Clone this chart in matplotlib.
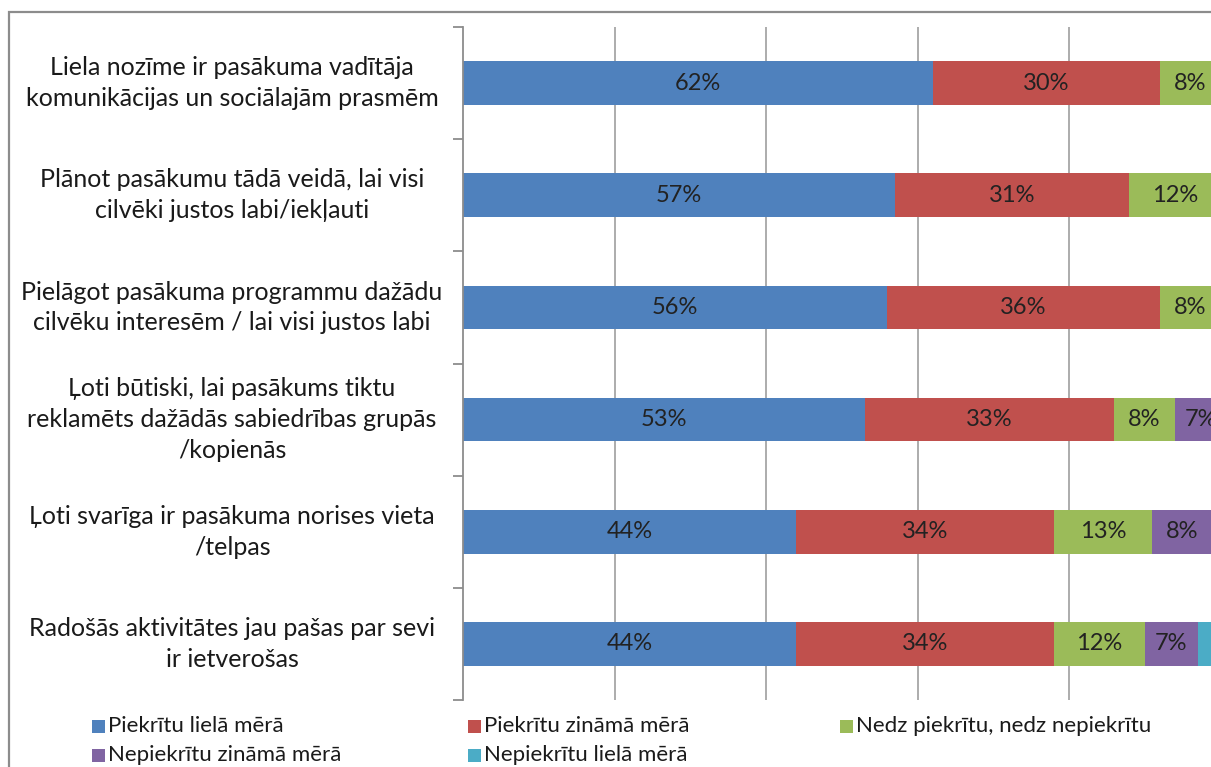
import matplotlib
matplotlib.use("Agg")
import matplotlib.pyplot as plt
from matplotlib.patches import Rectangle
from matplotlib.transforms import blended_transform_factory
import numpy as np

categories = [
    "Liela nozīme ir pasākuma vadītāja\nkomunikācijas un sociālajām prasmēm",
    "Plānot pasākumu tādā veidā, lai visi\ncilvēki justos labi/iekļauti",
    "Pielāgot pasākuma programmu dažādu\ncilvēku interesēm / lai visi justos labi",
    "Ļoti būtiski, lai pasākums tiktu\nreklamēts dažādās sabiedrības grupās\n/kopienās",
    "Ļoti svarīga ir pasākuma norises vieta\n/telpas",
    "Radošās aktivitātes jau pašas par sevi\nir ietverošas",
]
series_names = [
    "Piekrītu lielā mērā",
    "Piekrītu zināmā mērā",
    "Nedz piekrītu, nedz nepiekrītu",
    "Nepiekrītu zināmā mērā",
    "Nepiekrītu lielā mērā",
]
piekritu_liela = [62, 57, 56, 53, 44, 44]
piekritu_zinama = [30, 31, 36, 33, 34, 34]
nedz = [8, 12, 8, 8, 13, 12]
nepiekritu_zinama = [0, 0, 0, 7, 8, 7]
nepiekritu_liela = [0, 0, 0, 0, 1, 3]
series = [piekritu_liela, piekritu_zinama, nedz, nepiekritu_zinama, nepiekritu_liela]
colors = ["#4F81BD", "#C0504D", "#9BBB59", "#8064A2", "#4BACC6"]

FONT = ["Lato", "DejaVu Sans"]
plt.rcParams["font.family"] = FONT

W, H = 1211, 767
fig = plt.figure(figsize=(W / 100, H / 100), dpi=100)

# outer chart border (right/bottom edges fall outside the image)
fig.patches.append(Rectangle((9 / W, -0.05), 1.1, 1 - 12 / H + 0.05,
                             transform=fig.transFigure, fill=False,
                             edgecolor="#8c8c8c", linewidth=1.6, zorder=0))

ax = fig.add_axes([463.3 / W, 1 - 700 / H, 757 / W, (700 - 27) / H])
ypos = np.arange(len(categories))
left = np.zeros(len(categories))
for vals, col in zip(series, colors):
    vals = np.array(vals, dtype=float)
    bars = ax.barh(ypos, vals, left=left, height=0.39, color=col, zorder=2)
    for b, v in zip(bars, vals):
        if v >= 5:
            ax.text(b.get_x() + b.get_width() / 2, b.get_y() + b.get_height() / 2,
                    f"{v:.0f}%", ha="center", va="center", fontsize=17,
                    color="#222222", zorder=3)
    left += vals

ax.set_xlim(0, 100)
ax.set_ylim(len(categories) - 0.5, -0.5)
ax.set_xticks([20, 40, 60, 80])
ax.grid(axis="x", color="#a6a6a6", linewidth=1.3, zorder=0)
ax.tick_params(axis="x", length=0, labelbottom=False)
ax.set_yticks([])
ax.set_yticks(np.arange(-0.5, len(categories), 1.0), minor=True)
ax.tick_params(axis="y", which="minor", length=7, width=1.3, color="#8c8c8c",
               labelleft=False)
for s in ["top", "right", "bottom"]:
    ax.spines[s].set_visible(False)
ax.spines["left"].set_color("#8c8c8c")
ax.spines["left"].set_linewidth(1.3)

tr = blended_transform_factory(fig.transFigure, ax.transData)
for y, lab in zip(ypos, categories):
    ax.text(232 / W, y, lab, transform=tr, ha="center", va="center",
            fontsize=18, color="#1a1a1a", linespacing=1.4)

# legend
col_x = [92, 468, 840]
row_y = [726, 755]
for i, (name, col) in enumerate(zip(series_names, colors)):
    r, c = divmod(i, 3)
    x0 = col_x[c] / W
    y0 = 1 - row_y[r] / H
    fig.patches.append(Rectangle((x0, y0 - 6.5 / H), 13 / W, 13 / H,
                                 transform=fig.transFigure, facecolor=col,
                                 edgecolor="none"))
    fig.text(x0 + 16 / W, y0, name, ha="left", va="center", fontsize=16,
             color="#1a1a1a")

fig.savefig("out.png", dpi=100)
